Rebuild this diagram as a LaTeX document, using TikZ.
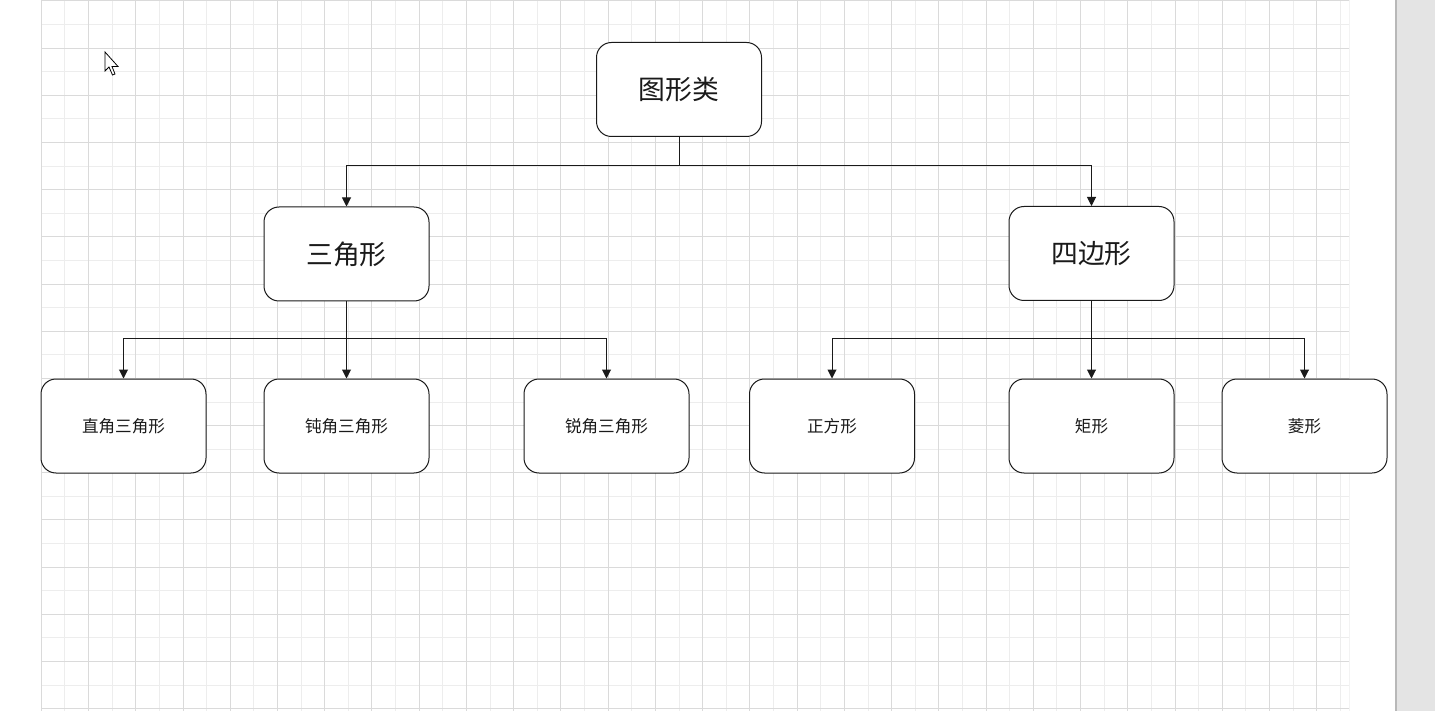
\documentclass[tikz,border=0pt]{standalone}
\usepackage{fontspec}
\newfontfamily\cjk{Noto Sans CJK SC}
\usetikzlibrary{arrows.meta}
\definecolor{gridminor}{HTML}{EDEDED}
\definecolor{gridmajor}{HTML}{DADADA}
\definecolor{barfill}{HTML}{E4E4E4}
\definecolor{barline}{HTML}{B8B8B8}
\definecolor{ink}{HTML}{1A1A1A}
\tikzset{
  box/.style={draw=ink, fill=white, rounded corners=15pt, line width=1pt, minimum width=165pt, minimum height=94pt, inner sep=0pt, text=ink},
  big/.style={box, font=\cjk\fontsize{26.8pt}{30pt}\selectfont},
  small/.style={box, font=\cjk\fontsize{16.6pt}{20pt}\selectfont},
  link/.style={draw=ink, line width=1pt, -{Triangle[width=9pt, length=9pt]}},
}
\begin{document}
\begin{tikzpicture}[x=1pt, y=-1pt]
  \useasboundingbox (0, 0) rectangle (1435, 711);
  \fill[white] (0, 0) rectangle (1435, 711);
  \begin{scope}
    \clip (40.8, 0) rectangle (1349.5, 711);
    \foreach \i in {0,...,55} \draw[gridminor, line width=1pt] (41.3 + 23.62 * \i, 0) -- ++(0, 711);
    \foreach \j in {0,...,30} \draw[gridminor, line width=1pt] (41, 1 + 23.59 * \j) -- (1349, 1 + 23.59 * \j);
    \foreach \i in {0,...,27} \draw[gridmajor, line width=1pt] (41.3 + 47.24 * \i, 0) -- ++(0, 711);
    \foreach \j in {0,...,15} \draw[gridmajor, line width=1pt] (41, 1 + 47.18 * \j) -- (1349, 1 + 47.18 * \j);
    \draw[gridminor, line width=1pt] (1349, 0) -- (1349, 711);
  \end{scope}
  \fill[barfill] (1396, 0) rectangle (1435, 711);
  \draw[barline, line width=1.5pt] (1396, 0) -- (1396, 711);
  \draw[black, fill=white, line width=0.8pt] (105, 52) -- (105, 71) -- (109, 67) -- (112.5, 75) -- (115, 74) -- (112, 66.5) -- (118, 66.5) -- cycle;
  \node[big] (root) at (679, 89.5) {图形类};
  \node[big] (tri) at (346.5, 254) {三角形};
  \node[big] (quad) at (1091.5, 253.5) {四边形};
  \node[small] (rightTri) at (123.5, 426) {直角三角形};
  \node[small] (obtuseTri) at (346.5, 426) {钝角三角形};
  \node[small] (acuteTri) at (606.5, 426) {锐角三角形};
  \node[small] (square) at (832, 426) {正方形};
  \node[small] (rect) at (1091.5, 426) {矩形};
  \node[small] (rhombus) at (1304.5, 426) {菱形};
  \draw[link] (root.south) -- ++(0, 29) -| (tri.north);
  \draw[link] (root.south) -- ++(0, 29) -| (quad.north);
  \draw[link] (tri.south) -- ++(0, 37) -| (rightTri.north);
  \draw[link] (tri.south) -- (obtuseTri.north);
  \draw[link] (tri.south) -- ++(0, 37) -| (acuteTri.north);
  \draw[link] (quad.south) -- ++(0, 37) -| (square.north);
  \draw[link] (quad.south) -- (rect.north);
  \draw[link] (quad.south) -- ++(0, 37) -| (rhombus.north);
\end{tikzpicture}
\end{document}
